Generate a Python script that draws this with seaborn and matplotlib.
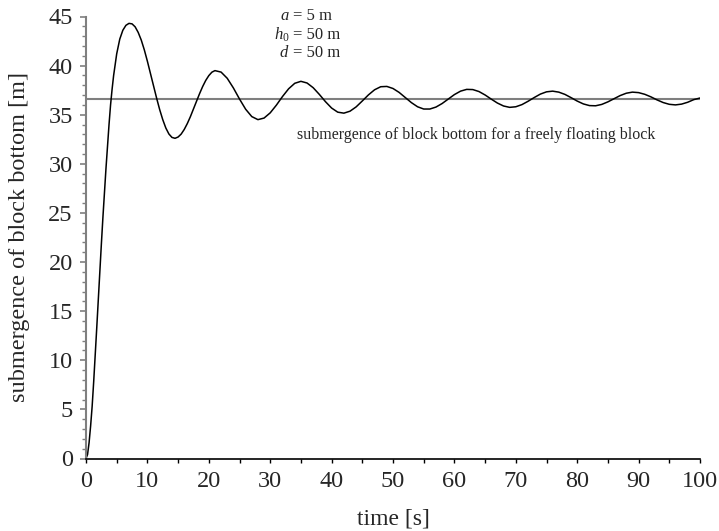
import numpy as np
import pandas as pd
import matplotlib
matplotlib.use("Agg")
import matplotlib.pyplot as plt
from matplotlib.ticker import MultipleLocator
import seaborn as sns

# time [s] and submergence of the block bottom [m]
time_s = [
    0, 0.25, 0.5, 0.75, 1.0, 1.25, 1.5, 1.75, 2.0, 2.25, 2.5, 2.75, 3.0, 3.25, 3.5,
    3.75, 4.0, 4.25, 4.5, 5.0, 5.5, 6.0, 6.5, 7.0, 7.5, 8.0, 8.5, 9.0, 9.5, 10.0,
    10.5, 11.0, 11.5, 12.0, 12.5, 13.0, 13.5, 14.0, 14.5, 15.0, 15.5, 16.0, 16.5,
    17.0, 17.5, 18.0, 18.5, 19.0, 19.5, 20.0, 20.5, 21.0,
    22, 23, 24, 25, 26, 27, 28, 29, 30, 31, 32, 33, 34, 35, 36, 37, 38, 39, 40,
    41, 42, 43, 44, 45, 46, 47, 48, 49, 50, 51, 52, 53, 54, 55, 56, 57, 58, 59, 60,
    61, 62, 63, 64, 65, 66, 67, 68, 69, 70, 71, 72, 73, 74, 75, 76, 77, 78, 79, 80,
    81, 82, 83, 84, 85, 86, 87, 88, 89, 90, 91, 92, 93, 94, 95, 96, 97, 98, 99, 100,
]
submergence = [
    0.0, 0.4, 1.6, 3.3, 5.3, 7.8, 10.5, 13.3, 16.2, 19.0, 21.8, 24.5, 27.0, 29.5, 31.8,
    34.0, 36.0, 37.6, 39.0, 41.2, 42.7, 43.6, 44.1, 44.3, 44.25, 43.95, 43.38, 42.6, 41.6, 40.44,
    39.21, 37.94, 36.69, 35.52, 34.5, 33.65, 33.04, 32.69, 32.6, 32.73, 33.03, 33.5, 34.1,
    34.8, 35.57, 36.37, 37.15, 37.87, 38.49, 38.98, 39.33, 39.49,
    39.34, 38.71, 37.73, 36.6, 35.56, 34.81, 34.5, 34.66, 35.19, 35.97, 36.85, 37.64, 38.2, 38.4, 38.23, 37.75, 37.07, 36.33, 35.68,
    35.26, 35.16, 35.36, 35.8, 36.4, 37.02, 37.54, 37.85, 37.88, 37.67, 37.27, 36.75, 36.23, 35.81, 35.58, 35.58, 35.78, 36.14, 36.6, 37.05,
    37.4, 37.58, 37.56, 37.36, 37.01, 36.59, 36.19, 35.89, 35.75, 35.81, 36.03, 36.37, 36.75, 37.1, 37.33, 37.4, 37.3, 37.07, 36.74, 36.39,
    36.1, 35.93, 35.91, 36.05, 36.31, 36.63, 36.95, 37.19, 37.3, 37.25, 37.08, 36.82, 36.51, 36.24, 36.06, 36.0, 36.08, 36.27, 36.54, 36.7,
]

# equilibrium submergence of a freely floating block [m]
free_float_level = 36.6

param_names = ["$a$", "$h_0$", "$d$"]
param_values = ["= 5 m", "= 50 m", "= 50 m"]

sns.set_style("white")
plt.rcParams["font.family"] = ["Liberation Serif", "DejaVu Serif"]
plt.rcParams["mathtext.fontset"] = "custom"
plt.rcParams["mathtext.it"] = "Liberation Serif:italic"
plt.rcParams["mathtext.rm"] = "Liberation Serif"

df = pd.DataFrame({"time": time_s, "sub": submergence})

fig = plt.figure(figsize=(7.19, 5.31), dpi=100)
ax = fig.add_axes([86 / 719, 1 - 458.5 / 531, 614 / 719, 442 / 531])

ax.axhline(free_float_level, color="#7f7f7f", lw=1.5, zorder=1)
sns.lineplot(data=df, x="time", y="sub", ax=ax, color="black", lw=1.1, zorder=2)

ax.set_xlim(0, 100)
ax.set_ylim(0, 45)
ax.xaxis.set_major_locator(MultipleLocator(10))
ax.xaxis.set_minor_locator(MultipleLocator(5))
ax.yaxis.set_major_locator(MultipleLocator(5))
ax.yaxis.set_minor_locator(MultipleLocator(1))

for side in ["top", "right"]:
    ax.spines[side].set_visible(False)
ax.spines["left"].set_color("#7f7f7f")
ax.spines["left"].set_linewidth(1.5)
ax.spines["bottom"].set_color("black")
ax.spines["bottom"].set_linewidth(1.2)

tick_fs = 17.5
ax.tick_params(axis="y", which="major", direction="out", length=4.5, width=1.2,
               color="#7f7f7f", labelsize=tick_fs, pad=5, left=True)
ax.tick_params(axis="y", which="minor", direction="out", length=3, width=1.0,
               color="#7f7f7f", left=True)
ax.tick_params(axis="x", which="major", direction="out", length=3, width=1.0,
               color="black", labelsize=tick_fs, pad=6, bottom=True)
ax.tick_params(axis="x", which="minor", direction="out", length=3, width=1.0,
               color="black", bottom=True)

ax.set_xlabel("time [s]", fontsize=17, labelpad=12)
ax.set_ylabel("submergence of block bottom [m]", fontsize=17.5, labelpad=13)

ax.text(34.4, 32.9, "submergence of block bottom for a freely floating block",
        fontsize=11.5, ha="left", va="center")

for i, (name, val) in enumerate(zip(param_names, param_values)):
    y = 45.0 - i * 1.88
    ax.text(33.1, y, name, fontsize=12, ha="right", va="center")
    ax.text(33.7, y, val, fontsize=12, ha="left", va="center")

fig.savefig("out.png", dpi=100)
